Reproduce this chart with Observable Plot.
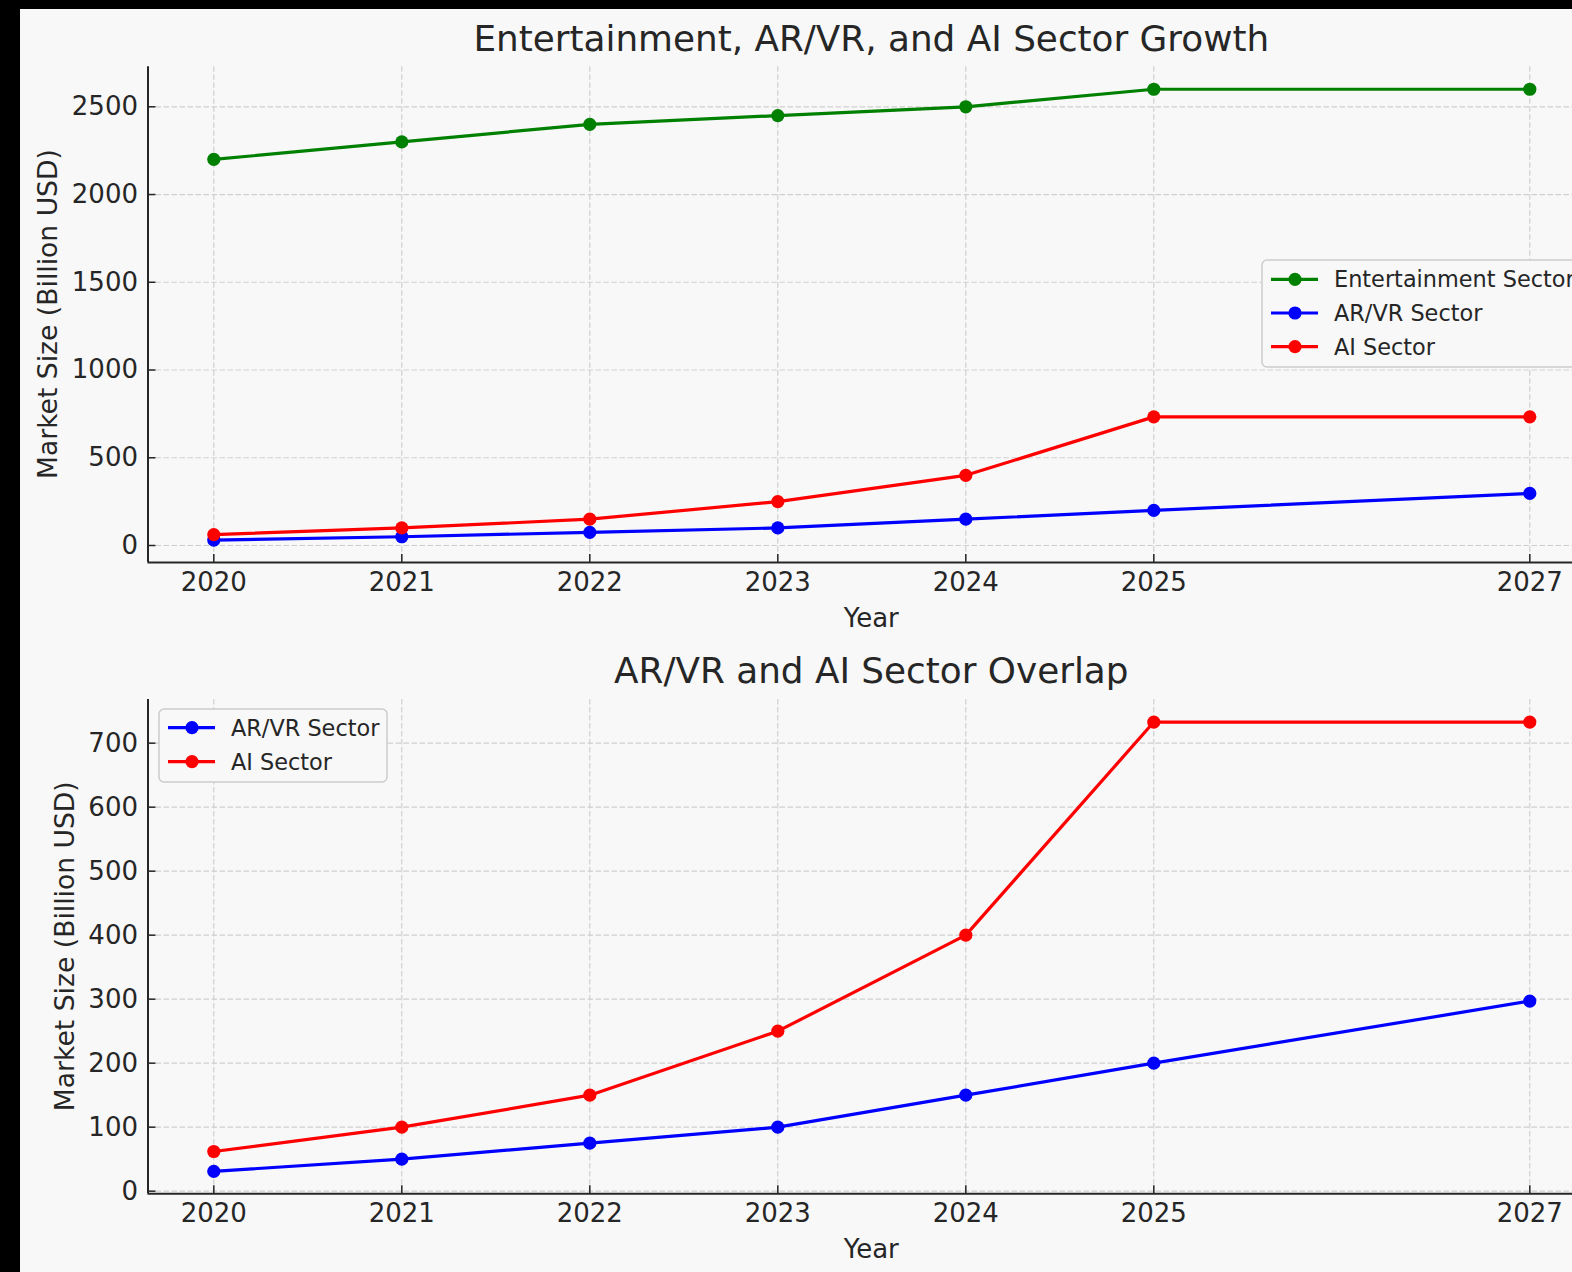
<!DOCTYPE html>
<html>
<head>
<meta charset="utf-8">
<script src="https://cdn.jsdelivr.net/npm/d3@7"></script>
<script src="https://cdn.jsdelivr.net/npm/@observablehq/plot@0.6"></script>
<style>
  html, body { margin: 0; padding: 0; background: #000; overflow: hidden; width: 1572px; height: 1272px; }
  #bg { position: absolute; left: 20px; top: 9px; right: 0; bottom: 0; background: #f8f8f8; }
  .chart { position: absolute; left: 0; }
  #overlay { position: absolute; left: 0; top: 0; }
</style>
</head>
<body>
<div id="bg"></div>
<div id="c1" class="chart" style="top:0px"></div>
<div id="c2" class="chart" style="top:640px"></div>
<svg id="overlay" width="1572" height="1272"></svg>
<script>
// ---- data ----
const years = [2020, 2021, 2022, 2023, 2024, 2025, 2027];
const entertainment = [2200, 2300, 2400, 2450, 2500, 2600, 2600];
const arvr = [31, 50, 75, 100, 150, 200, 297];
const ai = [62, 100, 150, 250, 400, 733, 733];
const seriesNames = ["Entertainment Sector", "AR/VR Sector", "AI Sector"];
const seriesColors = ["#008000", "#0000ff", "#ff0000"];
const yTicksTop = [0, 500, 1000, 1500, 2000, 2500];
const yTicksBottom = [0, 100, 200, 300, 400, 500, 600, 700];
const titleTop = "Entertainment, AR/VR, and AI Sector Growth";
const titleBottom = "AR/VR and AI Sector Overlap";
const xLabel = "Year";
const yLabel = "Market Size (Billion USD)";

// ---- helpers ----
const TEXT = "#262626";
const GRID = "#cfcfcf";
const FONT = "DejaVu Sans";
function pad([a, b]) { const r = b - a; return [a - 0.05 * r, b + 0.05 * r]; }
const xDom = pad(d3.extent(years));

function makeChart({series, yTicks, height, marginTop, marginBottom}) {
  const W = 1600, ML = 147.5, MR = W - 1595.1;
  const innerW = W - ML - MR, innerH = height - marginTop - marginBottom;
  const yDom = pad(d3.extent(series.flatMap(s => s.values)));
  const marks = [
    Plot.ruleX(years, {x: d => d, stroke: GRID, strokeWidth: 1.2, strokeDasharray: "5.5,2.5"}),
    Plot.ruleY(yTicks, {y: d => d, stroke: GRID, strokeWidth: 1.2, strokeDasharray: "5.5,2.5"}),
    Plot.axisX(years, {tickSize: 0, tickPadding: 10, tickFormat: d => String(d), label: null}),
    Plot.axisY(yTicks, {tickSize: 0, tickPadding: 10, tickFormat: d => String(d), label: null}),
    Plot.ruleX(years, {x: d => d, stroke: TEXT, strokeWidth: 1.5, insetTop: innerH - 8}),
    Plot.ruleY(yTicks, {y: d => d, stroke: TEXT, strokeWidth: 1.5, insetRight: innerW - 8}),
    Plot.ruleX([xDom[0]], {x: d => d, stroke: TEXT, strokeWidth: 2}),
    Plot.ruleY([yDom[0]], {y: d => d, stroke: TEXT, strokeWidth: 2})
  ];
  for (const s of series) {
    const rows = years.map((yr, i) => ({year: yr, value: s.values[i]}));
    marks.push(Plot.line(rows, {x: "year", y: "value", stroke: s.color, strokeWidth: 3.2}));
    marks.push(Plot.dot(rows, {x: "year", y: "value", fill: s.color, r: 6.6}));
  }
  return Plot.plot({
    width: W, height, marginLeft: ML, marginRight: MR, marginTop, marginBottom,
    style: {background: "transparent", maxWidth: "none", overflow: "visible",
            fontFamily: FONT, fontSize: "26px", color: TEXT},
    x: {type: "linear", domain: xDom},
    y: {type: "linear", domain: yDom},
    marks
  });
}

const sEnt = {name: seriesNames[0], color: seriesColors[0], values: entertainment};
const sAR = {name: seriesNames[1], color: seriesColors[1], values: arvr};
const sAI = {name: seriesNames[2], color: seriesColors[2], values: ai};

document.getElementById("c1").append(makeChart({
  series: [sEnt, sAR, sAI], yTicks: yTicksTop, height: 640, marginTop: 66.2, marginBottom: 77.9
}));
document.getElementById("c2").append(makeChart({
  series: [sAR, sAI], yTicks: yTicksBottom, height: 640, marginTop: 59.1, marginBottom: 86.7
}));

// ---- titles, axis labels, legends ----
const ov = d3.select("#overlay").attr("font-family", FONT).style("fill", TEXT);
const cx = (147.5 + 1595.1) / 2;
function txt(s, x, y, size, anchor = "middle", rot = 0) {
  const t = ov.append("text").attr("x", x).attr("y", y).attr("font-size", size)
    .attr("text-anchor", anchor).attr("fill", TEXT).text(s);
  if (rot) t.attr("transform", `rotate(${rot},${x},${y})`);
  return t;
}
txt(titleTop, cx, 51, 35.8);
txt(titleBottom, cx, 683, 35.8);
txt(xLabel, cx, 627, 26);
txt(xLabel, cx, 1258, 26);
txt(yLabel, 57.5, 314.1, 26.6, "middle", -90);
txt(yLabel, 74.5, 946.2, 26.6, "middle", -90);

function legend(x, y, w, h, items, row0, step) {
  const g = ov.append("g");
  g.append("rect").attr("x", x).attr("y", y).attr("width", w).attr("height", h)
    .attr("rx", 5).attr("fill", "#f8f8f8").attr("stroke", "#cccccc").attr("stroke-width", 1.5);
  items.forEach((s, i) => {
    const yy = row0 + i * step;
    g.append("line").attr("x1", x + 9).attr("x2", x + 56).attr("y1", yy).attr("y2", yy)
      .attr("stroke", s.color).attr("stroke-width", 3.2);
    g.append("circle").attr("cx", x + 33).attr("cy", yy).attr("r", 6.6).attr("fill", s.color);
    g.append("text").attr("x", x + 72).attr("y", yy).attr("dy", "0.36em")
      .attr("font-size", 22.4).attr("fill", TEXT).text(s.name);
  });
}
legend(1262, 260, 330, 107, [sEnt, sAR, sAI], 279.3, 33.7);
legend(159, 709, 228, 73, [sAR, sAI], 727.7, 34);
</script>
</body>
</html>
